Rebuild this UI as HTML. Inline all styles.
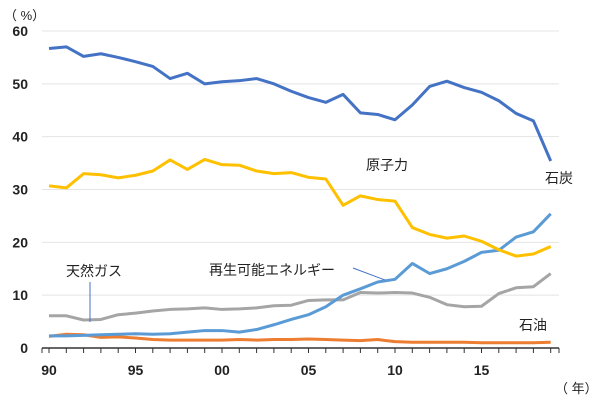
<!DOCTYPE html>
<html><head><meta charset="utf-8"><style>
body{margin:0;background:#fff}
text{font-family:"Liberation Sans","Noto Sans CJK JP",sans-serif;fill:#222}
</style></head><body>
<svg id="c" width="600" height="400"></svg>
<script>
const years=[];for(let y=1990;y<=2019;y++)years.push(y);
const yTicks=[0,10,20,30,40,50,60];
const xTickLabels=["90","95","00","05","10","15"];
const coal=[56.7,57,55.2,55.7,55,54.2,53.3,51,52,50,50.4,50.6,51,50,48.6,47.4,46.5,48,44.5,44.2,43.2,46,49.5,50.5,49.3,48.4,46.8,44.4,43,35.4];
const nuclear=[30.7,30.3,33,32.8,32.2,32.7,33.5,35.6,33.8,35.7,34.7,34.6,33.5,33,33.2,32.3,32,27,28.8,28.1,27.8,22.8,21.5,20.8,21.2,20.2,18.6,17.4,17.8,19.2];
const renewable=[2.3,2.3,2.4,2.5,2.6,2.7,2.6,2.7,3.0,3.3,3.3,3.0,3.5,4.4,5.4,6.3,7.8,10.0,11.2,12.5,13.0,16.0,14.1,15.0,16.4,18.1,18.5,21.0,22.0,25.4];
const gas=[6.1,6.1,5.3,5.4,6.3,6.6,7.0,7.3,7.4,7.6,7.3,7.4,7.6,8.0,8.1,9.0,9.1,9.1,10.5,10.4,10.5,10.4,9.6,8.2,7.8,7.9,10.3,11.4,11.6,14.1];
const oil=[2.2,2.6,2.5,2.0,2.1,1.9,1.6,1.5,1.5,1.5,1.5,1.6,1.5,1.6,1.6,1.7,1.6,1.5,1.4,1.6,1.2,1.1,1.1,1.1,1.1,1.0,1.0,1.0,1.0,1.1];
const svg=document.getElementById('c');const NS='http://www.w3.org/2000/svg';
const X=y=>49+(y-1990)*17.3;const Y=v=>348-v*5.283;
function mk(t,a,p){const e=document.createElementNS(NS,t);for(const k in a)e.setAttribute(k,a[k]);(p||svg).appendChild(e);return e;}
yTicks.forEach(v=>{
 if(v>0){const g=mk('line',{x1:42,x2:559,y1:Y(v),y2:Y(v),stroke:'#e4e4e4','stroke-width':1});
 
 }
 const t=mk('text',{x:28,y:Y(v)+5,'text-anchor':'end','font-size':14,'font-weight':'bold'});t.textContent=v;
 
 
});
const ax=mk('line',{x1:42,x2:559,y1:348,y2:348,stroke:'#333','stroke-width':1.5});


years.forEach(y=>{mk('line',{x1:X(y),x2:X(y),y1:348,y2:353,stroke:'#333','stroke-width':1});});
mk('line',{x1:42,x2:42,y1:348,y2:353,stroke:'#333'});mk('line',{x1:559,x2:559,y1:348,y2:353,stroke:'#333'});
xTickLabels.forEach((l,i)=>{const t=mk('text',{x:X(1990+i*5),y:375,'text-anchor':'middle','font-size':14,'font-weight':'bold'});t.textContent=l;
 
 });
function line(d,c,n){const p=mk('polyline',{points:d.map((v,i)=>X(years[i])+','+Y(v)).join(' '),fill:'none',stroke:c,'stroke-width':3,'stroke-linejoin':'round'});
 
 }
line(oil,'#ed7d31','oil-line');line(gas,'#a5a5a5','gas-line');line(renewable,'#5b9bd5','renewable-line');line(nuclear,'#ffc000','nuclear-line');line(coal,'#4472c4','coal-line');
mk('line',{x1:90,x2:90,y1:282,y2:322,stroke:'#4472c4','stroke-width':1});
mk('line',{x1:353,x2:385,y1:268,y2:280,stroke:'#4472c4','stroke-width':1});
const labels=[[4,20,'（ %）','unit-label',13,'start'],[66,276,'天然ガス','gas-label',14,'start'],[209,275,'再生可能エネルギー','renewable-label',14,'start'],[366,170,'原子力','nuclear-label',14,'start'],[545,183,'石炭','coal-label',14,'start'],[519,330,'石油','oil-label',14,'start'],[555,393,'（ 年）','year-unit-label',13,'start']];
labels.forEach(a=>{const t=mk('text',{x:a[0],y:a[1],'font-size':a[4],'text-anchor':a[5]});t.textContent=a[2];
 
 });
</script>
</body></html>
